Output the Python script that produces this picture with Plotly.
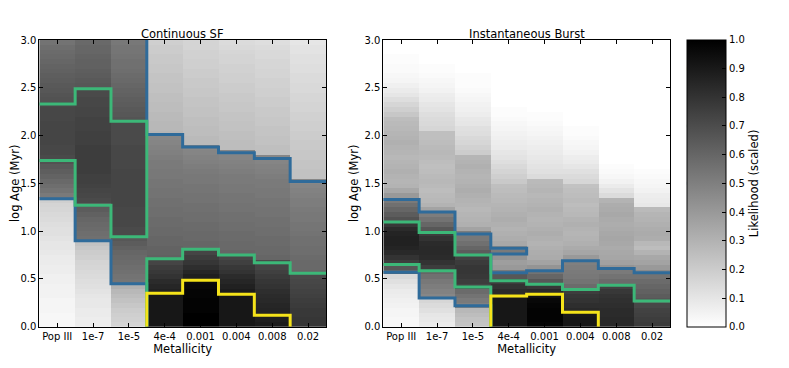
import numpy as np
import plotly.graph_objects as go
from collections import defaultdict

metallicity = ["Pop III", "1e-7", "1e-5", "4e-4", "0.001", "0.004", "0.008", "0.02"]
age_step = 0.05          # log Age bin width, bins run from 0.0 to 3.0
age_max = 3.0
age_ticks = [0.0, 0.5, 1.0, 1.5, 2.0, 2.5, 3.0]
cbar_ticks = [0.0, 0.1, 0.2, 0.3, 0.4, 0.5, 0.6, 0.7, 0.8, 0.9, 1.0]

# scaled likelihood, one list per metallicity column, from log Age 0.0 (bottom) up to 3.0
csf_like = [
    # Pop III
    [0.03, 0.03, 0.03, 0.04, 0.04, 0.04, 0.05, 0.05, 0.05, 0.06, 0.06, 0.07, 0.07, 0.08, 0.08,
     0.09, 0.10, 0.10, 0.11, 0.12, 0.12, 0.13, 0.14, 0.15, 0.16, 0.17, 0.19, 0.52, 0.55, 0.57,
     0.59, 0.61, 0.63, 0.65, 0.68, 0.71, 0.72, 0.72, 0.73, 0.73, 0.73, 0.73, 0.73, 0.72, 0.72,
     0.72, 0.71, 0.68, 0.67, 0.66, 0.65, 0.64, 0.63, 0.62, 0.61, 0.60, 0.59, 0.58, 0.57, 0.55],
    # 1e-7
    [0.07, 0.07, 0.08, 0.08, 0.09, 0.09, 0.10, 0.11, 0.12, 0.13, 0.14, 0.15, 0.16, 0.17, 0.19,
     0.20, 0.22, 0.24, 0.56, 0.57, 0.58, 0.59, 0.60, 0.62, 0.64, 0.66, 0.71, 0.72, 0.73, 0.74,
     0.75, 0.75, 0.76, 0.76, 0.76, 0.76, 0.76, 0.76, 0.75, 0.75, 0.75, 0.74, 0.74, 0.74, 0.73,
     0.73, 0.72, 0.72, 0.71, 0.71, 0.66, 0.65, 0.64, 0.63, 0.62, 0.62, 0.61, 0.60, 0.60, 0.59],
    # 1e-5
    [0.17, 0.18, 0.19, 0.20, 0.22, 0.24, 0.26, 0.28, 0.31, 0.54, 0.55, 0.56, 0.57, 0.58, 0.59,
     0.60, 0.62, 0.64, 0.66, 0.71, 0.71, 0.72, 0.72, 0.72, 0.72, 0.73, 0.73, 0.73, 0.73, 0.73,
     0.73, 0.73, 0.73, 0.72, 0.72, 0.72, 0.72, 0.72, 0.71, 0.71, 0.71, 0.71, 0.71, 0.67, 0.66,
     0.65, 0.64, 0.63, 0.62, 0.61, 0.60, 0.59, 0.58, 0.57, 0.56, 0.56, 0.55, 0.54, 0.54, 0.53],
    # 4e-4
    [0.91, 0.91, 0.91, 0.91, 0.91, 0.91, 0.91, 0.87, 0.85, 0.83, 0.80, 0.78, 0.76, 0.73, 0.62,
     0.61, 0.61, 0.60, 0.60, 0.59, 0.59, 0.58, 0.58, 0.57, 0.57, 0.56, 0.56, 0.55, 0.55, 0.54,
     0.54, 0.53, 0.53, 0.52, 0.52, 0.51, 0.50, 0.49, 0.48, 0.47, 0.29, 0.28, 0.28, 0.27, 0.27,
     0.26, 0.26, 0.25, 0.25, 0.24, 0.24, 0.23, 0.23, 0.22, 0.22, 0.21, 0.21, 0.20, 0.20, 0.19],
    # 0.001
    [1.00, 1.00, 1.00, 0.99, 0.99, 0.99, 0.98, 0.98, 0.97, 0.96, 0.88, 0.85, 0.82, 0.79, 0.76,
     0.73, 0.60, 0.60, 0.59, 0.59, 0.58, 0.58, 0.57, 0.57, 0.56, 0.56, 0.55, 0.55, 0.54, 0.54,
     0.53, 0.53, 0.52, 0.51, 0.50, 0.49, 0.48, 0.47, 0.27, 0.27, 0.26, 0.26, 0.25, 0.25, 0.24,
     0.24, 0.23, 0.23, 0.22, 0.22, 0.21, 0.21, 0.20, 0.20, 0.19, 0.19, 0.18, 0.18, 0.17, 0.17],
    # 0.004
    [0.91, 0.91, 0.91, 0.91, 0.91, 0.91, 0.91, 0.89, 0.87, 0.85, 0.83, 0.80, 0.78, 0.75, 0.72,
     0.60, 0.59, 0.59, 0.58, 0.58, 0.57, 0.57, 0.56, 0.56, 0.55, 0.55, 0.54, 0.54, 0.53, 0.53,
     0.52, 0.52, 0.51, 0.50, 0.49, 0.48, 0.47, 0.26, 0.26, 0.25, 0.25, 0.24, 0.24, 0.23, 0.23,
     0.22, 0.22, 0.21, 0.21, 0.20, 0.20, 0.19, 0.19, 0.18, 0.18, 0.17, 0.17, 0.16, 0.15, 0.14],
    # 0.008
    [0.89, 0.88, 0.87, 0.86, 0.85, 0.84, 0.83, 0.82, 0.80, 0.79, 0.77, 0.75, 0.73, 0.71, 0.60,
     0.59, 0.59, 0.58, 0.58, 0.57, 0.57, 0.56, 0.56, 0.55, 0.55, 0.54, 0.54, 0.53, 0.53, 0.52,
     0.52, 0.51, 0.50, 0.49, 0.48, 0.47, 0.25, 0.25, 0.24, 0.24, 0.23, 0.23, 0.22, 0.22, 0.21,
     0.21, 0.20, 0.20, 0.19, 0.19, 0.18, 0.18, 0.17, 0.17, 0.16, 0.16, 0.15, 0.15, 0.14, 0.13],
    # 0.02
    [0.79, 0.79, 0.78, 0.78, 0.77, 0.76, 0.75, 0.74, 0.73, 0.72, 0.71, 0.60, 0.59, 0.59, 0.58,
     0.57, 0.57, 0.56, 0.56, 0.55, 0.54, 0.54, 0.53, 0.53, 0.52, 0.51, 0.51, 0.50, 0.49, 0.48,
     0.47, 0.24, 0.24, 0.23, 0.23, 0.22, 0.22, 0.21, 0.21, 0.20, 0.20, 0.19, 0.19, 0.18, 0.18,
     0.17, 0.17, 0.16, 0.16, 0.15, 0.15, 0.14, 0.14, 0.13, 0.13, 0.12, 0.12, 0.11, 0.11, 0.10],
]

burst_like = [
    # Pop III
    [0.03, 0.03, 0.04, 0.04, 0.05, 0.06, 0.07, 0.08, 0.10, 0.12, 0.15, 0.60, 0.66, 0.76, 0.80,
     0.84, 0.86, 0.87, 0.87, 0.86, 0.83, 0.78, 0.68, 0.64, 0.60, 0.56, 0.52, 0.40, 0.34, 0.30,
     0.29, 0.30, 0.31, 0.30, 0.29, 0.28, 0.29, 0.30, 0.31, 0.30, 0.29, 0.28, 0.27, 0.26, 0.22,
     0.19, 0.16, 0.13, 0.10, 0.08, 0.06, 0.04, 0.03, 0.02, 0.02, 0.01, 0.01, 0.00, 0.00, 0.00],
    # 1e-7
    [0.08, 0.09, 0.10, 0.12, 0.14, 0.16, 0.47, 0.49, 0.51, 0.53, 0.56, 0.60, 0.76, 0.80, 0.83,
     0.84, 0.84, 0.83, 0.80, 0.76, 0.66, 0.60, 0.55, 0.51, 0.36, 0.30, 0.28, 0.27, 0.26, 0.27,
     0.28, 0.27, 0.26, 0.25, 0.26, 0.27, 0.28, 0.27, 0.26, 0.25, 0.25, 0.16, 0.15, 0.14, 0.13,
     0.11, 0.10, 0.08, 0.07, 0.05, 0.04, 0.03, 0.02, 0.01, 0.01, 0.00, 0.00, 0.00, 0.00, 0.00],
    # 1e-5
    [0.23, 0.24, 0.26, 0.28, 0.50, 0.52, 0.55, 0.58, 0.73, 0.76, 0.78, 0.79, 0.79, 0.77, 0.74,
     0.64, 0.60, 0.56, 0.53, 0.51, 0.36, 0.31, 0.30, 0.29, 0.28, 0.29, 0.30, 0.31, 0.32, 0.31,
     0.30, 0.29, 0.30, 0.31, 0.30, 0.29, 0.20, 0.18, 0.16, 0.15, 0.13, 0.12, 0.10, 0.09, 0.07,
     0.06, 0.05, 0.04, 0.03, 0.02, 0.01, 0.01, 0.01, 0.00, 0.00, 0.00, 0.00, 0.00, 0.00, 0.00],
    # 4e-4
    [0.91, 0.91, 0.91, 0.91, 0.91, 0.91, 0.86, 0.83, 0.80, 0.76, 0.66, 0.52, 0.40, 0.38, 0.42,
     0.52, 0.46, 0.34, 0.32, 0.31, 0.30, 0.31, 0.32, 0.31, 0.30, 0.29, 0.28, 0.27, 0.26, 0.25,
     0.21, 0.19, 0.17, 0.15, 0.13, 0.11, 0.10, 0.08, 0.07, 0.06, 0.05, 0.04, 0.03, 0.02, 0.01,
     0.01, 0.00, 0.00, 0.00, 0.00, 0.00, 0.00, 0.00, 0.00, 0.00, 0.00, 0.00, 0.00, 0.00, 0.00],
    # 0.001
    [0.98, 0.99, 0.99, 0.99, 0.98, 0.97, 0.93, 0.84, 0.78, 0.66, 0.60, 0.55, 0.42, 0.36, 0.33,
     0.32, 0.31, 0.30, 0.31, 0.32, 0.31, 0.30, 0.29, 0.30, 0.31, 0.30, 0.29, 0.28, 0.29, 0.28,
     0.27, 0.14, 0.12, 0.11, 0.10, 0.09, 0.08, 0.07, 0.06, 0.05, 0.04, 0.03, 0.02, 0.01, 0.01,
     0.00, 0.00, 0.00, 0.00, 0.00, 0.00, 0.00, 0.00, 0.00, 0.00, 0.00, 0.00, 0.00, 0.00, 0.00],
    # 0.004
    [0.91, 0.91, 0.90, 0.84, 0.82, 0.80, 0.79, 0.76, 0.58, 0.55, 0.53, 0.52, 0.51, 0.50, 0.40,
     0.35, 0.33, 0.31, 0.30, 0.29, 0.30, 0.31, 0.30, 0.28, 0.27, 0.26, 0.27, 0.26, 0.25, 0.24,
     0.16, 0.14, 0.12, 0.10, 0.08, 0.07, 0.05, 0.04, 0.03, 0.02, 0.01, 0.01, 0.00, 0.00, 0.00,
     0.00, 0.00, 0.00, 0.00, 0.00, 0.00, 0.00, 0.00, 0.00, 0.00, 0.00, 0.00, 0.00, 0.00, 0.00],
    # 0.008
    [0.84, 0.84, 0.83, 0.83, 0.82, 0.81, 0.80, 0.78, 0.74, 0.58, 0.55, 0.52, 0.42, 0.37, 0.35,
     0.34, 0.33, 0.34, 0.35, 0.34, 0.33, 0.32, 0.33, 0.34, 0.33, 0.32, 0.30, 0.14, 0.11, 0.08,
     0.05, 0.03, 0.02, 0.01, 0.00, 0.00, 0.00, 0.00, 0.00, 0.00, 0.00, 0.00, 0.00, 0.00, 0.00,
     0.00, 0.00, 0.00, 0.00, 0.00, 0.00, 0.00, 0.00, 0.00, 0.00, 0.00, 0.00, 0.00, 0.00, 0.00],
    # 0.02
    [0.77, 0.76, 0.75, 0.74, 0.72, 0.66, 0.64, 0.62, 0.60, 0.58, 0.55, 0.46, 0.40, 0.36, 0.34,
     0.30, 0.26, 0.28, 0.32, 0.33, 0.32, 0.31, 0.30, 0.29, 0.27, 0.09, 0.08, 0.07, 0.05, 0.04,
     0.03, 0.02, 0.01, 0.00, 0.00, 0.00, 0.00, 0.00, 0.00, 0.00, 0.00, 0.00, 0.00, 0.00, 0.00,
     0.00, 0.00, 0.00, 0.00, 0.00, 0.00, 0.00, 0.00, 0.00, 0.00, 0.00, 0.00, 0.00, 0.00, 0.00],
]

# contour levels and the log Age spans (per column) where likelihood is above each level
levels = [0.5, 0.7, 0.9]
level_colors = ["#2f6b9a", "#3cb878", "#f5e31a"]

csf_blue = [[(1.34, 3.0)], [(0.90, 3.0)], [(0.45, 3.0)], [(0, 2.01)],
            [(0, 1.88)], [(0, 1.82)], [(0, 1.76)], [(0, 1.52)]]
csf_green = [[(1.74, 2.33)], [(1.27, 2.49)], [(0.94, 2.15)], [(0, 0.71)],
             [(0, 0.81)], [(0, 0.75)], [(0, 0.67)], [(0, 0.56)]]
csf_yellow = [[], [], [], [(0, 0.35)], [(0, 0.485)], [(0, 0.34)], [(0, 0.12)], []]

burst_blue = [[(0.57, 1.33)], [(0.30, 1.20)], [(0.22, 0.97)], [(0, 0.565), (0.76, 0.82)],
              [(0, 0.585)], [(0, 0.69)], [(0, 0.61)], [(0, 0.565)]]
burst_green = [[(0.65, 1.095)], [(0.585, 0.985)], [(0.415, 0.75)], [(0, 0.48)],
               [(0, 0.445)], [(0, 0.39)], [(0, 0.435)], [(0, 0.27)]]
burst_yellow = [[], [], [], [(0, 0.32)], [(0, 0.34)], [(0, 0.15)], [], []]


def xor_spans(a, b):
    # vertical pieces of a column edge where exactly one side is inside the level
    pts = sorted({p for iv in a + b for p in iv})
    inside = lambda ivs, y: any(lo < y < hi for lo, hi in ivs)
    out = []
    for lo, hi in zip(pts[:-1], pts[1:]):
        mid = (lo + hi) / 2
        if inside(a, mid) != inside(b, mid):
            if out and abs(out[-1][1] - lo) < 1e-9:
                out[-1] = (out[-1][0], hi)
            else:
                out.append((lo, hi))
    return out


def contour_path(cols):
    segs = []
    for i, ivs in enumerate(cols):
        for lo, hi in ivs:
            if lo > 0:
                segs.append(((i - 0.5, lo), (i + 0.5, lo)))
            if hi < age_max:
                segs.append(((i - 0.5, hi), (i + 0.5, hi)))
    for i in range(len(cols) - 1):
        for lo, hi in xor_spans(cols[i], cols[i + 1]):
            segs.append(((i + 0.5, lo), (i + 0.5, hi)))

    # join the pieces into polylines so corners are drawn cleanly
    key = lambda p: (round(p[0], 4), round(p[1], 4))
    adj = defaultdict(list)
    for n, (a, b) in enumerate(segs):
        adj[key(a)].append(n)
        adj[key(b)].append(n)
    used = [False] * len(segs)
    xs, ys = [], []
    for s in range(len(segs)):
        if used[s]:
            continue
        used[s] = True
        path = [segs[s][0], segs[s][1]]
        for forward in (True, False):
            while True:
                end = path[-1] if forward else path[0]
                nxt = next((j for j in adj[key(end)] if not used[j]), None)
                if nxt is None:
                    break
                used[nxt] = True
                a, b = segs[nxt]
                other = b if key(a) == key(end) else a
                if forward:
                    path.append(other)
                else:
                    path.insert(0, other)
        xs += [p[0] for p in path] + [None]
        ys += [p[1] for p in path] + [None]
    return xs, ys


fig = go.Figure()

panels = [
    ("x", "y", csf_like, [csf_blue, csf_green, csf_yellow]),
    ("x2", "y2", burst_like, [burst_blue, burst_green, burst_yellow]),
]
cols_x = list(range(len(metallicity)))
for xa, ya, like, conts in panels:
    fig.add_trace(go.Heatmap(
        x=cols_x, y0=age_step / 2, dy=age_step, z=np.array(like).T,
        coloraxis="coloraxis", xaxis=xa, yaxis=ya, hoverinfo="skip"))
    for spans, color in zip(conts, level_colors):
        px, py = contour_path(spans)
        fig.add_trace(go.Scatter(x=px, y=py, mode="lines", xaxis=xa, yaxis=ya,
                                 line=dict(color=color, width=3), hoverinfo="skip"))

# level marks on the colour bar
for lvl, color in zip(levels, level_colors):
    fig.add_trace(go.Scatter(x=[0, 1], y=[lvl, lvl], mode="lines", xaxis="x3", yaxis="y3",
                             line=dict(color=color, width=3), hoverinfo="skip"))

# the page body adds an 8 px margin, so the figure is laid out in page pixels minus that
OFF = 8
W, H = 773, 352
px_x = lambda p: (p - OFF) / W
px_y = lambda p: 1 - (p - OFF) / H

y_dom = [px_y(326.7), px_y(40)]
ax = dict(showline=True, linecolor="black", linewidth=1, mirror="ticks", ticks="inside",
          ticklen=4, tickcolor="black", showgrid=False, zeroline=False,
          tickfont=dict(size=10))
xcommon = dict(ax, range=[-0.5, 7.5], tickvals=cols_x, ticktext=metallicity,
               title=dict(text="Metallicity", font=dict(size=11.5), standoff=2))
ycommon = dict(ax, range=[0, age_max], tickvals=age_ticks,
               ticktext=["%.1f" % t for t in age_ticks],
               title=dict(text="log Age (Myr)", font=dict(size=11.5), standoff=3))

cb_left, cb_right = px_x(686.7), px_x(725.7)
fig.update_layout(
    width=W, height=H, margin=dict(l=0, r=0, t=0, b=0, autoexpand=False),
    paper_bgcolor="white", plot_bgcolor="white", showlegend=False,
    font=dict(family="DejaVu Sans", size=10, color="black"),
    xaxis=dict(xcommon, domain=[px_x(39.3), px_x(326)], anchor="y"),
    yaxis=dict(ycommon, domain=y_dom, anchor="x"),
    xaxis2=dict(xcommon, domain=[px_x(383.3), px_x(670)], anchor="y2"),
    yaxis2=dict(ycommon, domain=y_dom, anchor="x2"),
    xaxis3=dict(domain=[cb_left, cb_right], range=[0, 1], visible=False, anchor="y3"),
    yaxis3=dict(domain=y_dom, range=[0, 1], visible=False, anchor="x3"),
    coloraxis=dict(
        colorscale=[[0, "#ffffff"], [1, "#000000"]], cmin=0, cmax=1,
        colorbar=dict(
            x=cb_left, xanchor="left", xpad=0, ypad=0,
            y=(y_dom[0] + y_dom[1]) / 2, yanchor="middle",
            len=286.7, lenmode="pixels", thickness=39, thicknessmode="pixels",
            outlinewidth=1, outlinecolor="black",
            ticks="inside", ticklen=4, tickcolor="black",
            tickvals=cbar_ticks, ticktext=["%.1f" % t for t in cbar_ticks],
            tickfont=dict(size=10),
            title=dict(text="Likelihood (scaled)", side="right", font=dict(size=11.5)),
        ),
    ),
    annotations=[
        dict(text="Continuous SF", x=px_x((39.3 + 326) / 2), y=px_y(33.5), xref="paper",
             yref="paper", showarrow=False, font=dict(size=11.5), xanchor="center",
             yanchor="middle"),
        dict(text="Instantaneous Burst", x=px_x((383.3 + 670) / 2), y=px_y(33.5),
             xref="paper", yref="paper", showarrow=False, font=dict(size=11.5),
             xanchor="center", yanchor="middle"),
    ],
)

fig.write_html("out.html")
